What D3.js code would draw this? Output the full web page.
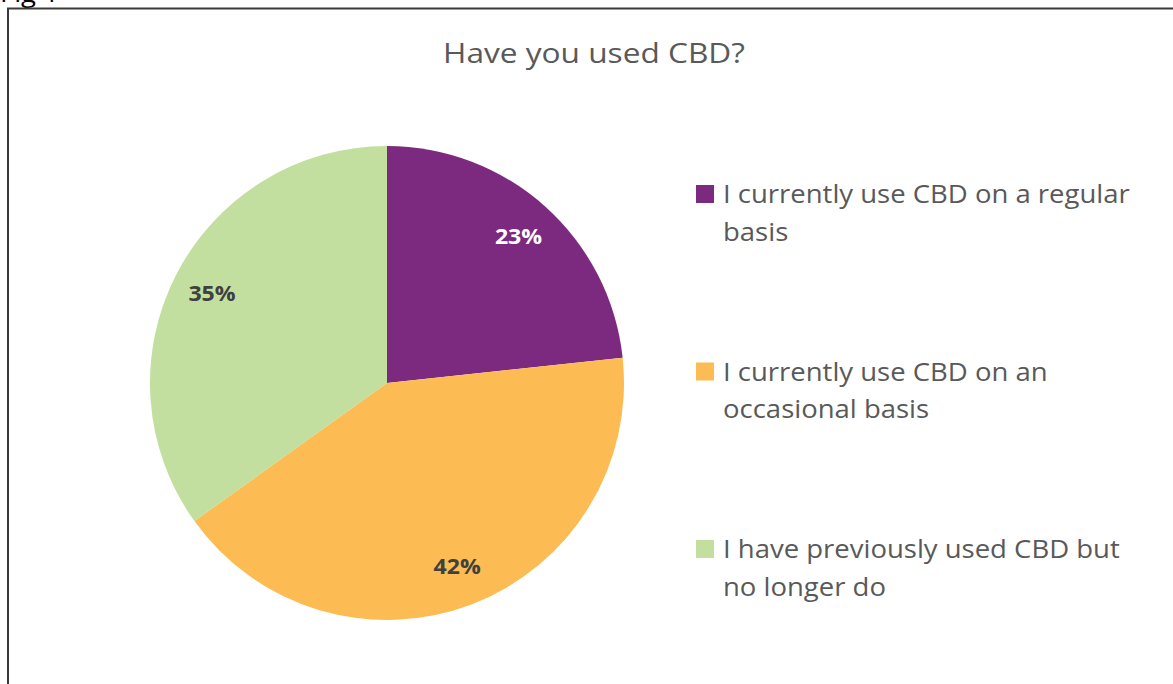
<!DOCTYPE html>
<html lang="en">
<head>
  <meta charset="UTF-8">
  <title>Have you used CBD?</title>
  <script src="https://d3js.org/d3.v7.min.js"></script>
  <style>
    html, body {
      margin: 0;
      padding: 0;
      background: #fff;
    }
    svg text {
      font-family: "Open Sans", Lato, sans-serif;
    }
  </style>
</head>
<body>
  <div id="container"></div>
  <script>
    const width = 1173;
    const height = 684;

    // data (start at 12 o'clock, clockwise)
    const categories = [
      'I currently use CBD on a regular basis',
      'I currently use CBD on an occasional basis',
      'I have previously used CBD but no longer do'
    ];
    const legendLines = [
      ['I currently use CBD on a regular', 'basis'],
      ['I currently use CBD on an', 'occasional basis'],
      ['I have previously used CBD but', 'no longer do']
    ];
    const values = [23.3, 41.8, 34.9];
    const labels = ['23%', '42%', '35%'];
    const colors = ['#7b2a7f', '#fdbb53', '#c3df9f'];
    const labelColors = ['#ffffff', '#404040', '#404040'];

    // the original text looks a bit stretched sideways
    const sx = 1.1;

    const svg = d3.select('#container').append('svg')
      .attr('width', width).attr('height', height);

    // caption above the frame, mostly cut off in the original too
    svg.append('text')
      .attr('transform', `translate(0,2) scale(${sx},1)`)
      .attr('font-size', 25)
      .attr('fill', '#000')
      .text('Fig 1');

    // chart frame
    svg.append('rect')
      .attr('x', 8).attr('y', 8.5)
      .attr('width', 1200).attr('height', 700)
      .attr('fill', 'none')
      .attr('stroke', '#3a3a3a')
      .attr('stroke-width', 2);

    svg.append('text')
      .attr('transform', `translate(594,63) scale(1.13,1)`)
      .attr('text-anchor', 'middle')
      .attr('font-size', 28)
      .attr('fill', '#595959')
      .text('Have you used CBD?');

    const cx = 387, cy = 383, r = 237;
    const pie = d3.pie().sort(null).value(d => d);
    const arc = d3.arc().innerRadius(0).outerRadius(r);
    const labelArc = d3.arc().innerRadius(r * 0.83).outerRadius(r * 0.83);

    const g = svg.append('g').attr('transform', `translate(${cx},${cy})`);
    const arcs = pie(values);

    g.selectAll('path.slice')
      .data(arcs)
      .join('path')
      .attr('class', 'slice')
      .attr('d', arc)
      .attr('fill', (d, i) => colors[i]);

    g.selectAll('text.lbl')
      .data(arcs)
      .join('text')
      .attr('class', 'lbl')
      .attr('transform', d => `translate(${labelArc.centroid(d)}) scale(${sx},1)`)
      .attr('text-anchor', 'middle')
      .attr('dy', '0.36em')
      .attr('font-size', 21)
      .attr('font-weight', 'bold')
      .attr('fill', (d, i) => labelColors[i])
      .text((d, i) => labels[i]);

    // legend
    const legendY = d3.scalePoint().domain(categories).range([203, 558]);
    const leg = svg.append('g');
    categories.forEach((c, i) => {
      const y = legendY(c);
      leg.append('rect')
        .attr('x', 696).attr('y', y - 18)
        .attr('width', 18).attr('height', 18)
        .attr('fill', colors[i]);
      const t = leg.append('text')
        .attr('transform', `translate(723,${y}) scale(${sx},1)`)
        .attr('font-size', 25)
        .attr('fill', '#595959');
      legendLines[i].forEach((line, j) => {
        t.append('tspan')
          .attr('x', 0)
          .attr('dy', j === 0 ? 0 : 38)
          .text(line);
      });
    });
  </script>
</body>
</html>
